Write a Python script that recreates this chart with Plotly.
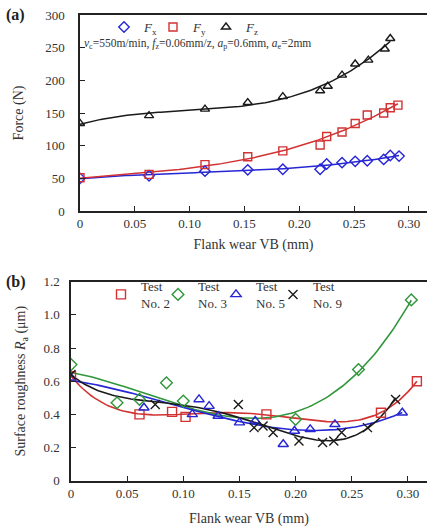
import numpy as np
import plotly.graph_objects as go

# ---------------- Panel (a) data: cutting forces ----------------
vb_fx = [0, 0.063, 0.114, 0.153, 0.185, 0.219, 0.225, 0.239, 0.251, 0.262, 0.277, 0.283, 0.291]
fx = [50, 54, 61, 63, 64, 64, 72, 74, 76, 77, 79, 85, 84]
vb_fy = [0, 0.063, 0.114, 0.153, 0.185, 0.219, 0.225, 0.239, 0.251, 0.262, 0.277, 0.283, 0.290]
fy = [51, 56, 71, 83, 92, 101, 114, 121, 134, 147, 150, 158, 162]
vb_fz = [0, 0.063, 0.114, 0.153, 0.185, 0.219, 0.226, 0.239, 0.251, 0.263, 0.278, 0.283]
fz = [134, 146, 156, 166, 175, 184, 191, 208, 225, 231, 248, 264]

# ---------------- Panel (b) data: surface roughness ----------------
vb_t2 = [0, 0.061, 0.090, 0.102, 0.174, 0.276, 0.308]
ra_t2 = [0.63, 0.40, 0.415, 0.385, 0.40, 0.41, 0.60]
vb_t3 = [0, 0.041, 0.061, 0.085, 0.100, 0.200, 0.256, 0.303]
ra_t3 = [0.70, 0.47, 0.49, 0.59, 0.48, 0.37, 0.67, 1.09]
vb_t5 = [0, 0.065, 0.108, 0.114, 0.123, 0.131, 0.150, 0.164, 0.189, 0.199, 0.213, 0.235, 0.295]
ra_t5 = [0.62, 0.44, 0.40, 0.49, 0.45, 0.39, 0.35, 0.36, 0.22, 0.30, 0.31, 0.34, 0.41]
vb_t9 = [0, 0.075, 0.149, 0.163, 0.171, 0.180, 0.203, 0.224, 0.234, 0.241, 0.264, 0.289]
ra_t9 = [0.64, 0.46, 0.46, 0.32, 0.33, 0.29, 0.24, 0.23, 0.24, 0.29, 0.32, 0.49]

x_tickvals = [0, 0.05, 0.10, 0.15, 0.20, 0.25, 0.30]
x_ticktext = ["0", "0.05", "0.10", "0.15", "0.20", "0.25", "0.30"]
ya_tickvals = [0, 50, 100, 150, 200, 250, 300]
yb_tickvals = [0, 0.2, 0.4, 0.6, 0.8, 1.0, 1.2]
yb_ticktext = ["0", "0.2", "0.4", "0.6", "0.8", "1.0", "1.2"]

BLUE = "#2626d4"
RED = "#d23232"
BLACK = "#1a1a1a"
GREEN = "#2f963a"
FONT = "Liberation Serif, Times New Roman, serif"
W, H = 427, 529


def fit(x, y, deg):
    p = np.polyfit(x, y, deg)
    xs = np.linspace(min(x), max(x), 120)
    return xs, np.polyval(p, xs)


fig = go.Figure()

# panel (a): (name, x, y, colour, symbol, fit degree, legend id, legend left px)
series_a = [
    ("<i>F</i><sub>x</sub>", vb_fx, fx, BLUE, "diamond-open", 3, "legend", 104),
    ("<i>F</i><sub>y</sub>", vb_fy, fy, RED, "square-open", 3, "legend2", 153),
    ("<i>F</i><sub>z</sub>", vb_fz, fz, BLACK, "triangle-up-open", 3, "legend3", 206),
]
for name, x, y, c, sym, deg, lg, lx in series_a:
    xs, ys = fit(x, y, deg)
    fig.add_trace(go.Scatter(x=xs, y=ys, mode="lines", line=dict(color=c, width=1.5),
                             showlegend=False, hoverinfo="skip", xaxis="x", yaxis="y"))
for name, x, y, c, sym, deg, lg, lx in series_a:
    fig.add_trace(go.Scatter(x=x, y=y, mode="markers", name=name,
                             marker=dict(symbol=sym, size=8, color=c, line=dict(color=c, width=1.4)),
                             xaxis="x", yaxis="y", legend=lg))

# panel (b)
series_b = [
    ("Test<br>No. 2", vb_t2, ra_t2, RED, "square-open", 4, "legend4", 101),
    ("Test<br>No. 3", vb_t3, ra_t3, GREEN, "diamond-open", 3, "legend5", 158),
    ("Test<br>No. 5", vb_t5, ra_t5, BLUE, "triangle-up-open", 3, "legend6", 216),
    ("Test<br>No. 9", vb_t9, ra_t9, BLACK, "x-thin-open", 4, "legend7", 273),
]
for name, x, y, c, sym, deg, lg, lx in series_b:
    xs, ys = fit(x, y, deg)
    fig.add_trace(go.Scatter(x=xs, y=ys, mode="lines", line=dict(color=c, width=1.6),
                             showlegend=False, hoverinfo="skip", xaxis="x2", yaxis="y2"))
for name, x, y, c, sym, deg, lg, lx in series_b:
    fig.add_trace(go.Scatter(x=x, y=y, mode="markers", name=name,
                             marker=dict(symbol=sym, size=9, color=c, line=dict(color=c, width=1.4)),
                             xaxis="x2", yaxis="y2", legend=lg))

axis_common = dict(showgrid=False, zeroline=False, showline=True, linecolor="#222", linewidth=1.5,
                   ticks="inside", ticklen=5, tickcolor="#222", tickwidth=1.3,
                   tickfont=dict(family=FONT, size=13, color="#333"), automargin=False)

legends = {}
for name, x, y, c, sym, deg, lg, lx in series_a:
    legends[lg] = dict(orientation="h", xanchor="left", yanchor="top", x=lx / W, y=1 - 12 / H,
                       bgcolor="rgba(0,0,0,0)", font=dict(family=FONT, size=13, color="#333"),
                       itemclick=False)
for name, x, y, c, sym, deg, lg, lx in series_b:
    legends[lg] = dict(orientation="h", xanchor="left", yanchor="top", x=lx / W, y=1 - 271 / H,
                       bgcolor="rgba(0,0,0,0)", font=dict(family=FONT, size=13, color="#333"),
                       itemclick=False)

fig.update_layout(
    width=W, height=H, margin=dict(l=0, r=0, t=0, b=0),
    paper_bgcolor="white", plot_bgcolor="white",
    font=dict(family=FONT, color="#333"),
    xaxis=dict(domain=[80 / W, 1], range=[0, 0.3165], tickvals=x_tickvals, ticktext=x_ticktext,
               mirror=True, anchor="y",
               title=dict(text="Flank wear VB (mm)", font=dict(family=FONT, size=14, color="#333"), standoff=9),
               **axis_common),
    yaxis=dict(domain=[1 - 211 / H, 1 - 15 / H], range=[0, 300], tickvals=ya_tickvals, anchor="x",
               ticklabelstandoff=11,
               title=dict(text="Force (N)", font=dict(family=FONT, size=14, color="#333"), standoff=18),
               **axis_common),
    xaxis2=dict(domain=[71 / W, 1], range=[0, 0.317], tickvals=x_tickvals, ticktext=x_ticktext,
                mirror=True, anchor="y2",
                title=dict(text="Flank wear VB (mm)", font=dict(family=FONT, size=14, color="#333"), standoff=13),
                **axis_common),
    yaxis2=dict(domain=[1 - 480.7 / H, 1 - 281.7 / H], range=[0, 1.2], tickvals=yb_tickvals,
                ticktext=yb_ticktext, anchor="x2", ticklabelstandoff=7,
                title=dict(text="Surface roughness <i>R</i><sub>a</sub> (μm)",
                           font=dict(family=FONT, size=14, color="#333"), standoff=14),
                **axis_common),
    **legends,
)

fig.add_annotation(text="<i>v</i><sub>c</sub>=550m/min, <i>f</i><sub>z</sub>=0.06mm/z, "
                        "<i>a</i><sub>p</sub>=0.6mm, <i>a</i><sub>e</sub>=2mm",
                   xref="paper", yref="paper", x=82 / W, y=1 - 44 / H, xanchor="left", yanchor="middle",
                   showarrow=False, font=dict(family=FONT, size=11.5, color="#333"))
fig.add_annotation(text="<b>(a)</b>", xref="paper", yref="paper", x=4 / W, y=1 - 15 / H,
                   xanchor="left", yanchor="middle", showarrow=False,
                   font=dict(family=FONT, size=16, color="#222"))
fig.add_annotation(text="<b>(b)</b>", xref="paper", yref="paper", x=4 / W, y=1 - 282 / H,
                   xanchor="left", yanchor="middle", showarrow=False,
                   font=dict(family=FONT, size=16, color="#222"))

fig.write_html("out.html")
